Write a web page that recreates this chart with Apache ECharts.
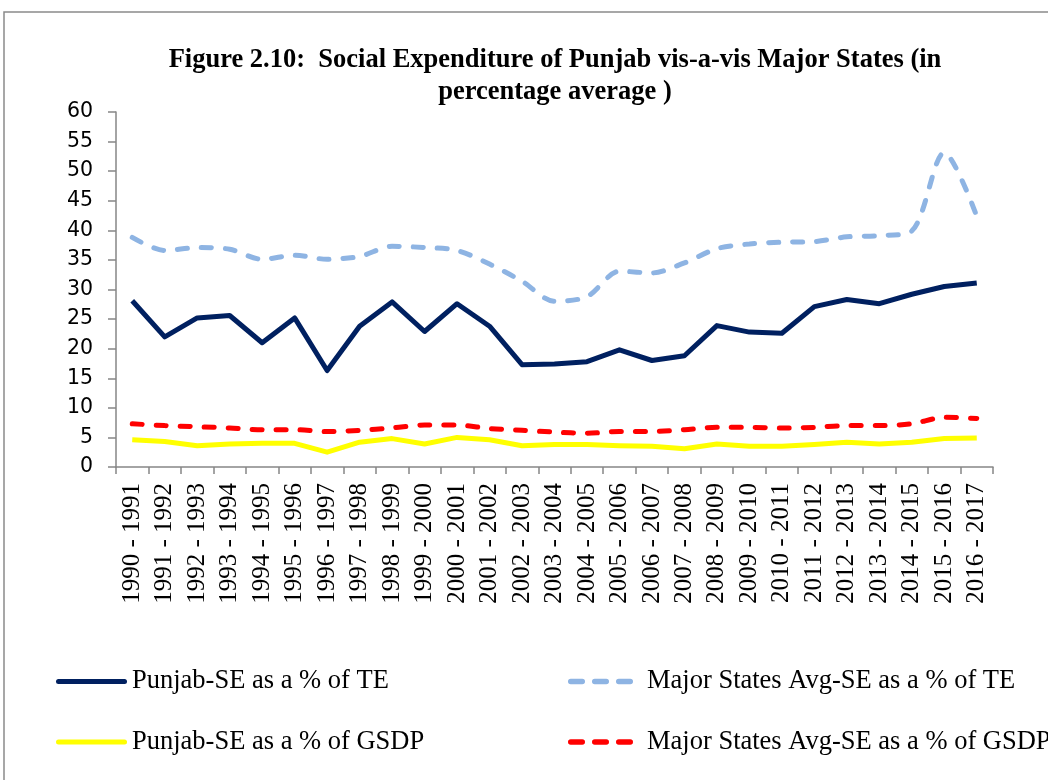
<!DOCTYPE html>
<html>
<head>
<meta charset="utf-8">
<script src="https://cdn.jsdelivr.net/npm/echarts@6/dist/echarts.min.js"></script>
<style>html,body{margin:0;padding:0;background:#fff}#c{width:1048px;height:780px}</style>
</head>
<body>
<div id="c"></div>
<script>
const categories = ['1990 - 1991','1991 - 1992','1992 - 1993','1993 - 1994','1994 - 1995','1995 - 1996','1996 - 1997','1997 - 1998','1998 - 1999','1999 - 2000','2000 - 2001','2001 - 2002','2002 - 2003','2003 - 2004','2004 - 2005','2005 - 2006','2006 - 2007','2007 - 2008','2008 - 2009','2009 - 2010','2010 - 2011','2011 - 2012','2012 - 2013','2013 - 2014','2014 - 2015','2015 - 2016','2016 - 2017'];
const punjabTE = [28.1,22.0,25.2,25.6,21.0,25.2,16.3,23.8,27.9,22.9,27.6,23.8,17.3,17.4,17.8,19.8,18.0,18.8,23.9,22.8,22.6,27.1,28.3,27.6,29.2,30.5,31.1];
const majorTE = [38.8,36.6,37.1,36.8,35.1,35.8,35.1,35.6,37.3,37.1,36.6,34.3,31.4,28.0,28.8,33.1,32.8,34.5,36.9,37.7,38.0,38.1,38.9,39.1,39.9,53.1,42.4];
const punjabGSDP = [4.6,4.3,3.6,3.9,4.0,4.0,2.5,4.2,4.8,3.9,5.0,4.6,3.6,3.8,3.8,3.6,3.5,3.1,3.9,3.5,3.5,3.8,4.2,3.9,4.2,4.8,4.9];
const majorGSDP = [7.3,7.0,6.8,6.6,6.3,6.3,6.0,6.2,6.6,7.1,7.1,6.5,6.2,5.9,5.7,6.0,6.0,6.3,6.7,6.7,6.6,6.7,7.0,7.0,7.3,8.4,8.2];
const names = ['Punjab-SE as a % of TE','Major States Avg-SE as a % of TE','Punjab-SE as a % of GSDP','Major States Avg-SE as a % of GSDP'];

const chart = echarts.init(document.getElementById('c'));
const serif = 'Liberation Serif';
const solidIcon = 'path://M2.5,0H68.5A2.5,2.5,0,0,1,68.5,5H2.5A2.5,2.5,0,0,1,2.5,0Z';
const dashIcon = 'path://M2.75,0H14.25A2.75,2.75,0,0,1,14.25,5.5H2.75A2.75,2.75,0,0,1,2.75,0Z' +
  'M26.75,0H38.25A2.75,2.75,0,0,1,38.25,5.5H26.75A2.75,2.75,0,0,1,26.75,0Z' +
  'M50.75,0H62.25A2.75,2.75,0,0,1,62.25,5.5H50.75A2.75,2.75,0,0,1,50.75,0Z';
function leg(name, left, top, dashed) {
  return {data: [{name: name, icon: dashed ? dashIcon : solidIcon}], left: left, top: top,
    itemWidth: dashed ? 65 : 71, itemHeight: dashed ? 5.5 : 5, itemGap: 0, symbolKeepAspect: false,
    textStyle: {fontFamily: serif, fontSize: 26.5, lineHeight: 30, color: '#000',
      padding: dashed ? [0, 0, 0, 9] : 0},
    padding: 0, selectedMode: false};
}
chart.setOption({
  animation: false,
  graphic: [{type: 'rect', shape: {x: 4, y: 12, width: 1100, height: 800},
    style: {fill: 'none', stroke: '#8a8a8a', lineWidth: 1.5}}],
  title: {
    text: 'Figure 2.10:  Social Expenditure of Punjab vis-a-vis Major States (in\npercentage average )',
    left: 550, top: 39, textAlign: 'center',
    textStyle: {fontFamily: serif, fontWeight: 'bold', fontSize: 26.5, lineHeight: 32, color: '#000'}
  },
  legend: [leg(names[0], 56, 666.5, false), leg(names[1], 568, 666.5, true),
           leg(names[2], 56, 727, false), leg(names[3], 568, 727, true)],
  grid: {left: 116, right: 55, top: 112, bottom: 313, containLabel: false},
  xAxis: {
    type: 'category', data: categories, boundaryGap: true,
    axisLine: {lineStyle: {color: '#868686', width: 1.5}},
    axisTick: {show: true, alignWithLabel: false, length: 7, lineStyle: {color: '#868686', width: 1.5}},
    axisLabel: {rotate: 90, interval: 0, margin: 16, fontFamily: serif, fontSize: 25, color: '#000'}
  },
  yAxis: {
    type: 'value', min: 0, max: 60, interval: 5,
    splitLine: {show: false},
    axisLine: {show: true, lineStyle: {color: '#868686', width: 1.5}},
    axisTick: {show: true, length: 8, lineStyle: {color: '#868686', width: 1.5}},
    axisLabel: {margin: 23, fontFamily: 'DejaVu Sans', fontSize: 20.5, color: '#000'}
  },
  series: [
    {name: names[0], type: 'line', data: punjabTE, symbol: 'none', smooth: false,
      lineStyle: {color: '#002060', width: 5, join: 'round'}, itemStyle: {color: '#002060'}},
    {name: names[1], type: 'line', data: majorTE, symbol: 'none', smooth: 0.3,
      lineStyle: {color: '#8EB4E3', width: 5, type: [10, 14], cap: 'round'}, itemStyle: {color: '#8EB4E3'}},
    {name: names[2], type: 'line', data: punjabGSDP, symbol: 'none', smooth: false,
      lineStyle: {color: '#FFFF00', width: 5, join: 'round'}, itemStyle: {color: '#FFFF00'}},
    {name: names[3], type: 'line', data: majorGSDP, symbol: 'none', smooth: 0.3,
      lineStyle: {color: '#FF0000', width: 5, type: [10, 14], cap: 'round'}, itemStyle: {color: '#FF0000'}}
  ]
});
</script>
</body>
</html>
